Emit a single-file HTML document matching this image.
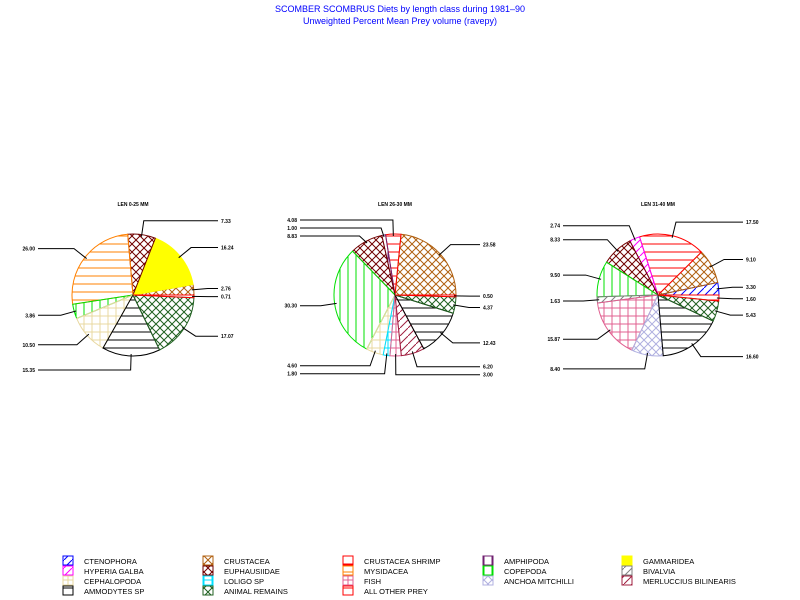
<!DOCTYPE html>
<html><head><meta charset="utf-8"><style>
body{margin:0;background:#fff}
svg{display:block;font-family:"Liberation Sans",sans-serif}
</style></head><body>
<svg id="c" width="800" height="600" viewBox="0 0 800 600">
<defs id="defs"></defs>
<text x="400" y="12" text-anchor="middle" font-size="9" fill="#0000ff">SCOMBER SCOMBRUS Diets by length class during 1981–90</text>
<text x="400" y="24" text-anchor="middle" font-size="9" fill="#0000ff">Unweighted Percent Mean Prey volume (ravepy)</text>
<g id="pies"></g>
<g id="legend"></g>
</svg>
<script>
const categories=["CTENOPHORA","HYPERIA GALBA","CEPHALOPODA","AMMODYTES SP","CRUSTACEA","EUPHAUSIIDAE","LOLIGO SP","ANIMAL REMAINS","CRUSTACEA SHRIMP","MYSIDACEA","FISH","ALL OTHER PREY","AMPHIPODA","COPEPODA","ANCHOA MITCHILLI","GAMMARIDEA","BIVALVIA","MERLUCCIUS BILINEARIS"];
const colors=["#0000ff","#ff00ff","#e8d8a0","#000000","#b06010","#700000","#00e0ff","#206020","#ff0000","#ff8000","#e06090","#ff0000","#702070","#00e000","#b0b0e0","#ffff00","#808080","#a02040"];
const patterns=["diag","diag","cross","hline","xcross","xcross","cross","xcross","hline","hline","cross","hline","vline","vline","xcross","solid","diag","diag"];
const pieTitles=["LEN 0-25 MM","LEN 26-30 MM","LEN 31-40 MM"];
const pie1Cats=["CRUSTACEA","GAMMARIDEA","EUPHAUSIIDAE","MYSIDACEA","COPEPODA","CEPHALOPODA","AMMODYTES SP","ANIMAL REMAINS","CRUSTACEA SHRIMP"];
const pie1Vals=[2.76,16.24,7.33,26.00,3.86,10.50,15.35,17.07,0.71];
const pie2Cats=["CRUSTACEA","CRUSTACEA SHRIMP","AMPHIPODA","EUPHAUSIIDAE","COPEPODA","CEPHALOPODA","LOLIGO SP","FISH","MERLUCCIUS BILINEARIS","AMMODYTES SP","ANIMAL REMAINS","ALL OTHER PREY"];
const pie2Vals=[23.58,4.08,1.00,8.83,30.30,4.60,1.80,3.00,6.20,12.43,4.37,0.50];
const pie3Cats=["CTENOPHORA","CRUSTACEA","CRUSTACEA SHRIMP","HYPERIA GALBA","EUPHAUSIIDAE","COPEPODA","BIVALVIA","FISH","ANCHOA MITCHILLI","AMMODYTES SP","ANIMAL REMAINS","ALL OTHER PREY"];
const pie3Vals=[3.30,9.10,17.50,2.74,8.33,9.50,1.63,15.87,8.40,16.60,5.43,1.60];
const pies=[[pie1Cats,pie1Vals],[pie2Cats,pie2Vals],[pie3Cats,pie3Vals]];
const pieCx=[133,395,658], pieCy=295, R=61;
const NS="http://www.w3.org/2000/svg";
function mk(t,a,p){const e=document.createElementNS(NS,t);for(const k in a)e.setAttribute(k,a[k]);if(p)p.appendChild(e);return e;}
const defs=document.getElementById('defs');
categories.forEach((c,i)=>{
  if(patterns[i]==="solid")return;
  const p=mk('pattern',{id:'p'+i,patternUnits:'userSpaceOnUse',width:8,height:8},defs);
  const col=colors[i], t=patterns[i];
  const ln=(x1,y1,x2,y2)=>mk('line',{x1,y1,x2,y2,stroke:col,'stroke-width':1},p);
  if(t==="hline")ln(0,4,8,4);
  if(t==="vline")ln(4,0,4,8);
  if(t==="cross"){ln(0,4,8,4);ln(4,0,4,8);}
  if(t==="diag"){ln(0,8,8,0);}
  if(t==="xcross"){ln(0,8,8,0);ln(0,0,8,8);}
});
const fillOf=i=>patterns[i]==="solid"?colors[i]:'url(#p'+i+')';
const angle=(f)=>f*2*Math.PI;
const pt=(cx,a,r)=>[cx+r*Math.cos(a),pieCy-r*Math.sin(a)];
const g=document.getElementById('pies');
pies.forEach(([cats,vals],k)=>{
  const cx=pieCx[k];
  const pg=mk('g',{},g);
  
  
  const tt=mk('text',{x:cx,y:206,'text-anchor':'middle','font-size':5,'font-weight':'bold'},pg);
  tt.textContent=pieTitles[k];
  
  
  const tot=vals.reduce((a,b)=>a+b,0);
  let acc=0;
  const labels=[];
  vals.forEach((v,j)=>{
    const ci=categories.indexOf(cats[j]);
    const a0=angle(acc/tot), a1=angle((acc+v)/tot); acc+=v;
    const [x0,y0]=pt(cx,a0,R),[x1,y1]=pt(cx,a1,R);
    const large=(a1-a0)>Math.PI?1:0;
    const s=mk('path',{d:`M${cx},${pieCy}L${x0},${y0}A${R},${R} 0 ${large} 0 ${x1},${y1}Z`,fill:fillOf(ci),stroke:colors[ci],'stroke-width':1},pg);
    
    
    const am=(a0+a1)/2;
    const [px,py]=pt(cx,am,R-2),[bx,by]=pt(cx,am,R+14);
    labels.push({v,px,py,bx,by,right:Math.cos(am)>=0});
  });
  [true,false].forEach(side=>{
    const L=labels.filter(l=>l.right===side).sort((a,b)=>a.by-b.by);
    for(let i=1;i<L.length;i++){ if(L[i].by<L[i-1].by+8) L[i].by=L[i-1].by+8; }
  });
  labels.forEach(o=>{
    const lx=o.right?cx+85:cx-95;
    const l=mk('polyline',{points:`${o.px},${o.py} ${o.bx},${o.by} ${lx},${o.by}`,fill:'none',stroke:'#000','stroke-width':1},pg);
    
    
    const t=mk('text',{x:o.right?lx+3:lx-3,y:o.by+2,'text-anchor':o.right?'start':'end','font-size':5,'font-weight':'bold'},pg);
    t.textContent=o.v.toFixed(2);
    
    
  });
});
const lg=document.getElementById('legend');
const colX=[63,203,343,483,622], rowY=[556,566,576,586];
const legendCols=[[0,1,2,3],[4,5,6,7],[8,9,10,11],[12,13,14],[15,16,17]];
legendCols.forEach((col,c)=>col.forEach((ci,r)=>{
  const e=mk('g',{},lg);
  
  
  mk('rect',{x:colX[c],y:rowY[r],width:10,height:9,fill:'#fff'},e);
  mk('rect',{x:colX[c],y:rowY[r],width:10,height:9,fill:fillOf(ci),stroke:colors[ci],'stroke-width':1},e);
  const t=mk('text',{x:colX[c]+21,y:rowY[r]+8,'font-size':7.5},e);
  t.textContent=categories[ci];
}));
</script>
</body></html>
